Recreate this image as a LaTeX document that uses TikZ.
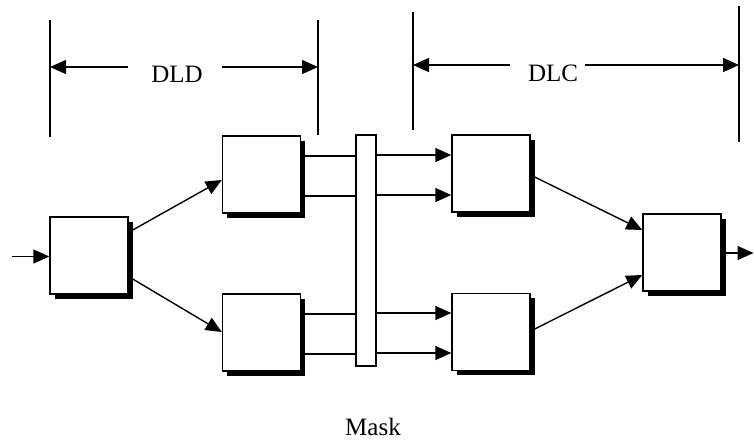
\documentclass[tikz,border=0pt]{standalone}
\usepackage{fontspec}
\setmainfont{Liberation Serif}
\usetikzlibrary{arrows.meta,shadows}
\begin{document}
\begin{tikzpicture}[x=1pt,y=-1pt,
  line width=1.4pt,
  arr/.style={-{Triangle[length=16pt,width=14pt]}},
  block/.style={draw, fill=white, minimum width=78pt, minimum height=77pt,
    inner sep=0pt,
    general shadow={fill=black, shadow xshift=4.5pt, shadow yshift=-4.5pt}},
  maskbar/.style={draw, fill=white, line width=1.2pt, minimum width=20pt,
    minimum height=231pt, inner sep=0pt},
  lbl/.style={inner sep=0pt, font=\fontsize{25}{28}\selectfont}]
\useasboundingbox (0,0) rectangle (754,440);

% processing blocks
\node[block] (b1) at (89,255.5) {};
\node[block] (b2) at (261.5,174.5) {};
\node[block] (b3) at (261.5,332.5) {};
\node[block] (b4) at (491,173.5) {};
\node[block] (b5) at (491,332) {};
\node[block] (b6) at (682,252.5) {};

% mask bar
\node[maskbar] (mask) at (366,250.5) {};
\node[lbl] (masklbl) at (373,427) {Mask};

% input and output
\coordinate (in) at (12,256.5);
\coordinate (out) at (753.5,253);
\draw[arr] (in) -- (b1.west |- in);
\draw[arr] ([xshift=4pt]b6.east |- out) -- (out);

% fan-out
\draw[arr] ([xshift=4pt]b1.east |- {(0,230)}) -- (b2.west |- {(0,180)});
\draw[arr] ([xshift=4pt]b1.east |- {(0,279)}) -- (b3.west |- {(0,332)});

% into the mask
\draw (b2.east |- {(0,156)}) -- (mask.west |- {(0,156)});
\draw (b2.east |- {(0,196)}) -- (mask.west |- {(0,196)});
\draw (b3.east |- {(0,314)}) -- (mask.west |- {(0,314)});
\draw (b3.east |- {(0,354)}) -- (mask.west |- {(0,354)});

% out of the mask
\draw[arr] (mask.east |- {(0,155)}) -- (b4.west |- {(0,155)});
\draw[arr] (mask.east |- {(0,195)}) -- (b4.west |- {(0,195)});
\draw[arr] (mask.east |- {(0,313)}) -- (b5.west |- {(0,313)});
\draw[arr] (mask.east |- {(0,353)}) -- (b5.west |- {(0,353)});

% fan-in
\draw[arr] ([xshift=4pt]b4.east |- {(0,177)}) -- (b6.west |- {(0,230)});
\draw[arr] ([xshift=4pt]b5.east |- {(0,329)}) -- (b6.west |- {(0,275)});

% DLD dimension
\coordinate (dldLt) at (50,20);  \coordinate (dldLb) at (50,137);
\coordinate (dldRt) at (318,20); \coordinate (dldRb) at (318,135);
\draw (dldLt) -- (dldLb);
\draw (dldRt) -- (dldRb);
\node[lbl] (dld) at (177,74) {DLD};
\coordinate (dldA) at (128,67);
\coordinate (dldB) at (222,67);
\draw[arr] (dldA) -- (dldLt |- dldA);
\draw[arr] (dldB) -- (dldRt |- dldB);

% DLC dimension
\coordinate (dlcLt) at (413,12);  \coordinate (dlcLb) at (413,130);
\coordinate (dlcRt) at (739,6);   \coordinate (dlcRb) at (739,142);
\draw (dlcLt) -- (dlcLb);
\draw (dlcRt) -- (dlcRb);
\node[lbl] (dlc) at (553,73) {DLC};
\coordinate (dlcA) at (510,65);
\coordinate (dlcB) at (585,65);
\draw[arr] (dlcA) -- (dlcLt |- dlcA);
\draw[arr] (dlcB) -- (dlcRt |- dlcB);
\end{tikzpicture}
\end{document}
